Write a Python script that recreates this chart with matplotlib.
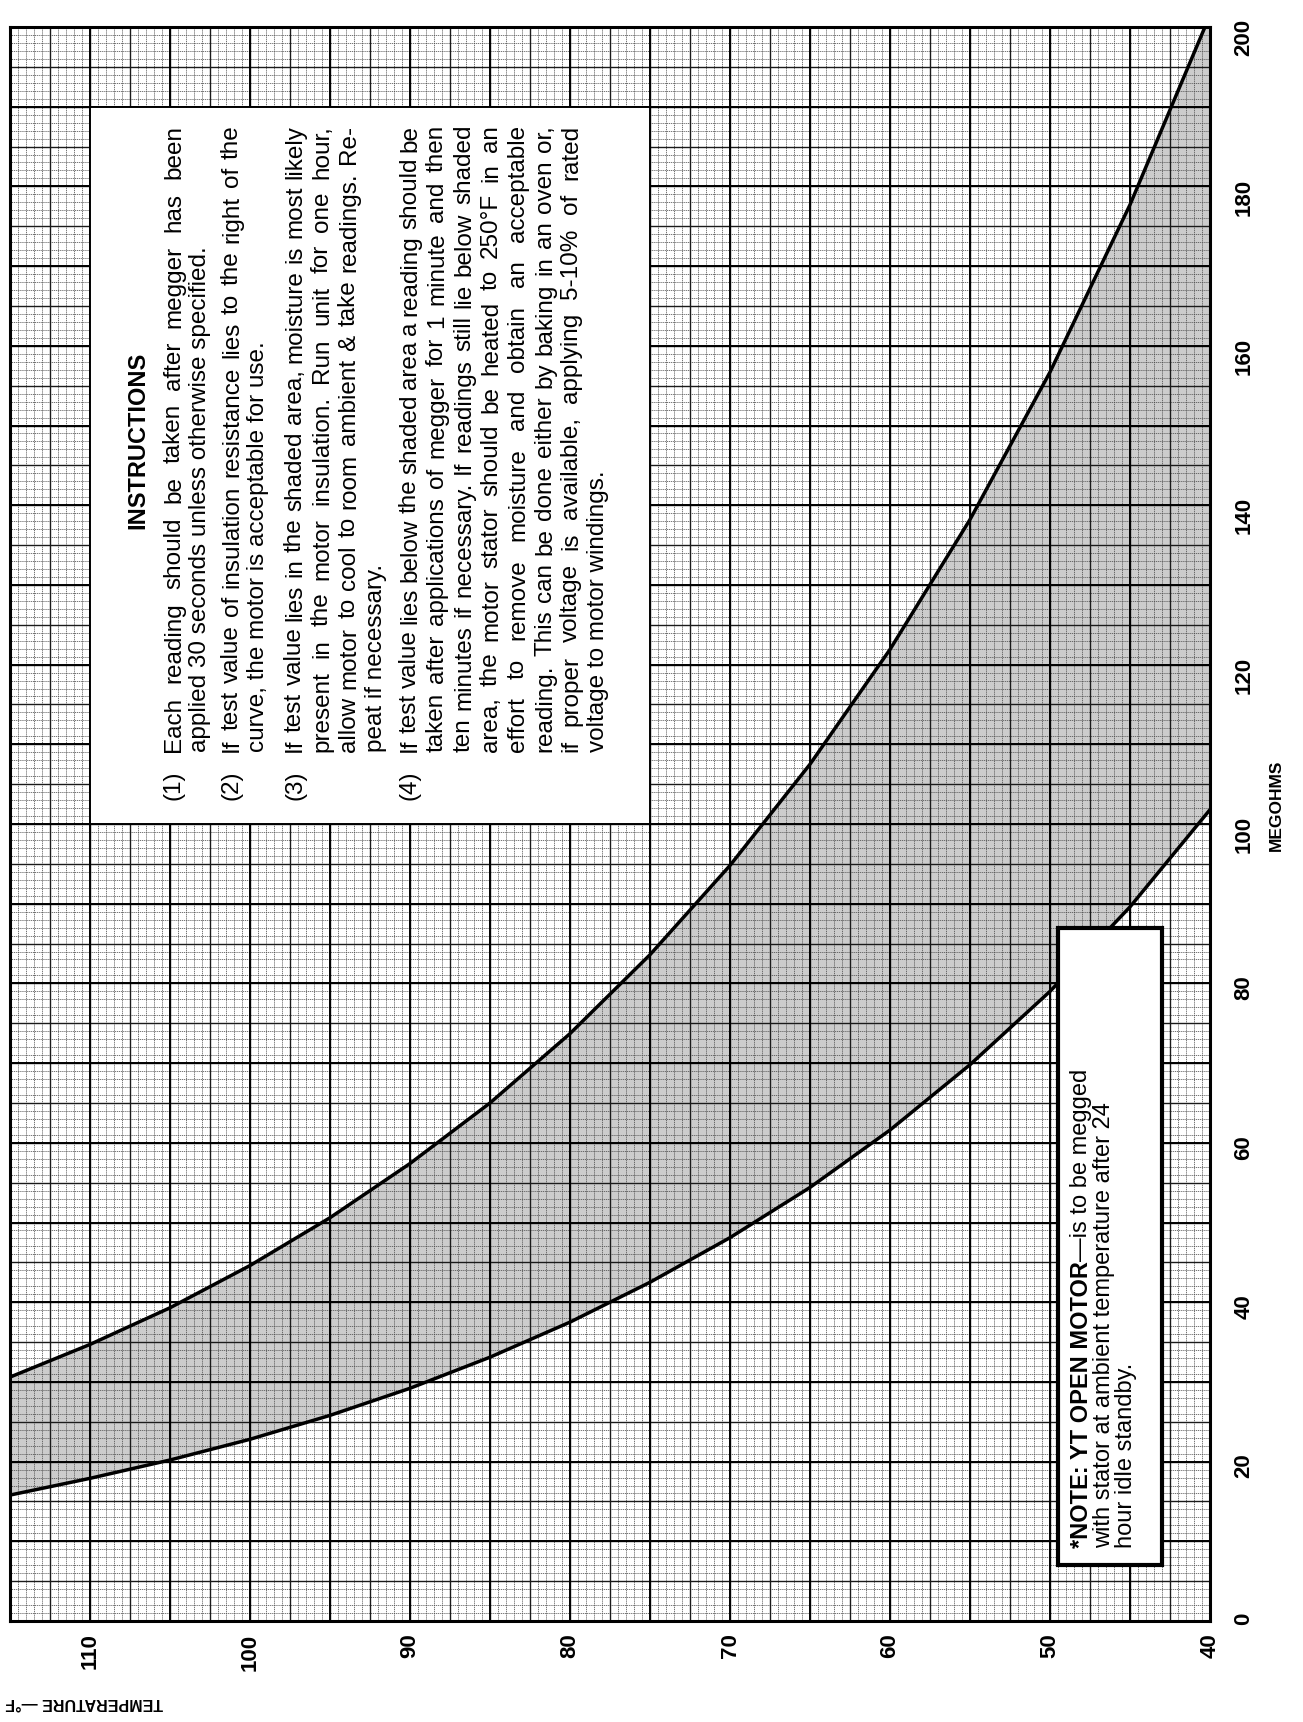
import numpy as np
import matplotlib.pyplot as plt
from matplotlib.patches import Rectangle
from matplotlib.font_manager import FontProperties

W, H = 1303, 1722

# curves (temperature in F, resistance in megohms)
temps = [115, 110, 105, 100, 95, 90, 85, 80, 75, 70, 65, 60, 55, 50, 45, 40]
lower_mohm = [15.8, 17.9, 20.2, 22.8, 25.8, 29.2, 33.1, 37.5, 42.5, 48.1, 54.4, 61.6, 69.8, 79.0, 89.6, 101.8]
upper_mohm = [30.6, 34.7, 39.3, 44.6, 50.6, 57.4, 65.0, 73.7, 83.6, 94.8, 107.5, 121.9, 138.2, 156.7, 177.7, 201.5]

temp_ticks = [110, 100, 90, 80, 70, 60, 50, 40]
mohm_ticks = [0, 20, 40, 60, 80, 100, 120, 140, 160, 180, 200]

paragraphs = [
    ("(1)", ["Each reading should be taken after megger has been",
             "applied 30 seconds unless otherwise specified."]),
    ("(2)", ["If test value of insulation resistance lies to the right of the",
             "curve, the motor is acceptable for use."]),
    ("(3)", ["If test value lies in the shaded area, moisture is most likely",
             "present in the motor insulation.  Run unit for one hour,",
             "allow motor to cool to room ambient & take readings. Re-",
             "peat if necessary."]),
    ("(4)", ["If test value lies below the shaded area a reading should be",
             "taken after applications of megger for 1 minute and then",
             "ten minutes if necessary. If readings still lie below shaded",
             "area, the motor stator should be heated to 250°F in an",
             "effort to remove moisture and obtain an acceptable",
             "reading. This can be done either by baking in an oven or,",
             "if proper voltage is available, applying 5-10% of rated",
             "voltage to motor windings."]),
]
para_x = [[174, 200], [232, 258], [295, 322, 349, 376],
          [410, 437, 464, 491, 518, 545, 571, 598]]

note_bold = "*NOTE: YT OPEN MOTOR"
note_rest = ["\u2014is to be megged",
             "with stator at ambient temperature after 24",
             "hour idle standby."]

plt.rcParams['font.family'] = ['Liberation Sans', 'DejaVu Sans']

fig = plt.figure(figsize=(W / 100, H / 100), dpi=100)
ax = fig.add_axes([10 / W, 1 - 1621 / H, 1200 / W, 1594 / H])
ax.set_xlim(115, 40)
ax.set_ylim(0, 200)

# graph paper
ax.vlines(np.arange(40, 115.01, 0.5), 0, 200, color='0.3', lw=0.55, linestyles=(0, (1.5, 1)), zorder=1)
ax.hlines(np.arange(0, 200.01, 1), 40, 115, color='0.3', lw=0.55, linestyles=(0, (1.5, 1)), zorder=1)
ax.vlines(np.arange(40, 115.01, 2.5), 0, 200, color='0.1', lw=1.0, zorder=1.2)
ax.hlines(np.arange(0, 200.01, 5), 40, 115, color='0.1', lw=1.0, zorder=1.2)
ax.vlines(np.arange(40, 115.01, 5), 0, 200, color='black', lw=1.4, zorder=1.3)
ax.hlines(np.arange(0, 200.01, 10), 40, 115, color='black', lw=1.4, zorder=1.3)

ax.fill_between(temps, lower_mohm, upper_mohm, color='0.5', alpha=0.4, lw=0, zorder=0.5)
ax.plot(temps, lower_mohm, color='black', lw=2.5, zorder=3)
ax.plot(temps, upper_mohm, color='black', lw=2.5, zorder=3)

# white boxes
ax.add_patch(Rectangle((75, 100), 35, 90, facecolor='white', edgecolor='black', lw=1.4, zorder=4))
ax.add_patch(Rectangle((43, 7), 6.5, 80, facecolor='white', edgecolor='black', lw=3, zorder=4))

for s in ax.spines.values():
    s.set_linewidth(2.2)
    s.set_zorder(5)

ax.set_xticks(temp_ticks, labels=[str(t) for t in temp_ticks])
ax.yaxis.tick_right()
ax.set_yticks(mohm_ticks, labels=[str(m) for m in mohm_ticks])
ax.tick_params(axis='x', length=0, pad=9, labelrotation=90, labelsize=16)
ax.tick_params(axis='y', length=0, pad=17, labelrotation=90, labelsize=16)
for lab in ax.get_xticklabels() + ax.get_yticklabels():
    lab.set_fontweight('bold')

fig.text(1276 / W, 1 - 805 / H, "MEGOHMS", rotation=90, ha='center', va='center',
         fontsize=12.5, fontweight='bold')
fig.text(84 / W, 1 - 1703 / H, "TEMPERATURE \u2014°F", rotation=180, ha='center', va='center',
         fontsize=11.5, fontweight='bold')

renderer = fig.canvas.get_renderer()
fam = ['Liberation Sans', 'DejaVu Sans']


def text_len(s, prop):
    w, h, d = renderer.get_text_width_height_descent(s, prop, ismath=False)
    return w


# body size chosen so the longest line just fills the column
body_start, body_end = 752, 125
longest = max((ln for _, lines in paragraphs for ln in lines), key=len)
size = 15.0
while size < 18 and text_len(longest, FontProperties(family=fam, size=size + 0.25)) < (body_start - body_end) - 12:
    size += 0.25
body = FontProperties(family=fam, size=size)
bold = FontProperties(family=fam, size=17, weight='bold')
note = FontProperties(family=fam, size=17)


def put_line(x, y0, y1, line, prop, justify):
    words = line.split()
    if not justify or len(words) < 2:
        fig.text(x / W, 1 - y0 / H, line, rotation=90, ha='center', va='bottom', fontproperties=prop)
        return
    widths = [text_len(w, prop) for w in words]
    gap = ((y0 - y1) - sum(widths)) / (len(words) - 1)
    y = y0
    for w, wd in zip(words, widths):
        fig.text(x / W, 1 - y / H, w, rotation=90, ha='center', va='bottom', fontproperties=prop)
        y -= wd + gap


fig.text(138 / W, 1 - 440 / H, "INSTRUCTIONS", rotation=90, ha='center', va='center',
         fontproperties=FontProperties(family=fam, size=17, weight='bold'))

for (num, lines), xs in zip(paragraphs, para_x):
    fig.text(xs[0] / W, 1 - 800 / H, num, rotation=90, ha='center', va='bottom', fontproperties=body)
    for i, (line, x) in enumerate(zip(lines, xs)):
        put_line(x, body_start, body_end, line, body, i < len(lines) - 1)

# note box text
y0 = 1548
fig.text(1081 / W, 1 - y0 / H, note_bold, rotation=90, ha='center', va='bottom', fontproperties=bold)
fig.text(1081 / W, 1 - (y0 - text_len(note_bold, bold)) / H, note_rest[0], rotation=90,
         ha='center', va='bottom', fontproperties=note)
fig.text(1104 / W, 1 - y0 / H, note_rest[1], rotation=90, ha='center', va='bottom', fontproperties=note)
fig.text(1126 / W, 1 - y0 / H, note_rest[2], rotation=90, ha='center', va='bottom', fontproperties=note)

fig.savefig("out.png", dpi=100)
